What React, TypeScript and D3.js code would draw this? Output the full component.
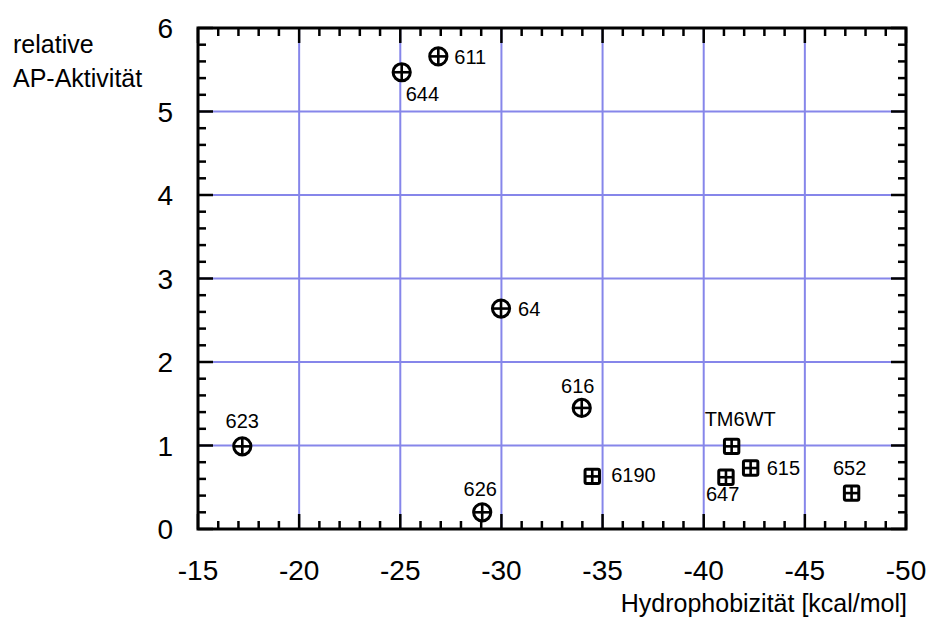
import * as d3 from "d3";

// mutants: hydrophobicity vs relative AP activity
const circleNames = ["623", "644", "611", "64", "616", "626"];
const circleX = [-17.19, -25.07, -26.88, -29.98, -33.97, -29.05];
const circleY = [0.99, 5.47, 5.66, 2.64, 1.45, 0.2];

const squareNames = ["6190", "TM6WT", "647", "615", "652"];
const squareX = [-34.49, -41.38, -41.1, -42.32, -47.31];
const squareY = [0.63, 0.99, 0.62, 0.73, 0.43];

const xTicks = [-15, -20, -25, -30, -35, -40, -45, -50];
const yTicks = [0, 1, 2, 3, 4, 5, 6];

const xTitle = "Hydrophobizität [kcal/mol]";
const yTitle = ["relative", "AP-Aktivität"];

// label placement relative to the marker centre (px)
const labelPos: Record<string, { dx: number; dy: number; anchor: string }> = {
  "623": { dx: 0, dy: -18, anchor: "middle" },
  "644": { dx: 4, dy: 29, anchor: "start" },
  "611": { dx: 16, dy: 8, anchor: "start" },
  "64": { dx: 17, dy: 7, anchor: "start" },
  "616": { dx: -4, dy: -15, anchor: "middle" },
  "626": { dx: -2, dy: -16, anchor: "middle" },
  "6190": { dx: 19, dy: 6, anchor: "start" },
  TM6WT: { dx: -27, dy: -20, anchor: "start" },
  "647": { dx: -20, dy: 24, anchor: "start" },
  "615": { dx: 16, dy: 7, anchor: "start" },
  "652": { dx: -2, dy: -18, anchor: "middle" },
};

const font = "'Liberation Sans', Arial, sans-serif";
const gridColor = "#8686ea";

export default function App() {
  const width = 926;
  const height = 623;
  const left = 198;
  const right = 906;
  const top = 28;
  const bottom = 529;

  const x = d3.scaleLinear().domain([-15, -50]).range([left, right]);
  const y = d3.scaleLinear().domain([0, 6]).range([bottom, top]);

  const xMinor = d3.range(-15, -50.01, -1);
  const yMinor = d3.range(0, 6.001, 0.2);
  const majorLen = 15;
  const minorLen = 8;

  const circles = circleNames.map((n, i) => ({ n, x: circleX[i], y: circleY[i] }));
  const squares = squareNames.map((n, i) => ({ n, x: squareX[i], y: squareY[i] }));

  return (
    <svg
      width={width}
      height={height}
      style={{ position: "absolute", left: 0, top: 0, background: "#fff" }}
      fontFamily={font}
    >
      {/* grid */}
      {xTicks.slice(1, -1).map((t) => (
        <line key={"gx" + t} x1={x(t)} x2={x(t)} y1={top} y2={bottom} stroke={gridColor} strokeWidth={2} />
      ))}
      {yTicks.slice(1, -1).map((t) => (
        <line key={"gy" + t} x1={left} x2={right} y1={y(t)} y2={y(t)} stroke={gridColor} strokeWidth={2} />
      ))}

      {/* ticks, inward on all sides */}
      <g stroke="#000" strokeWidth={2.5}>
        {xMinor.map((t) => {
          const major = Math.abs(t % 5) < 1e-6;
          const len = major ? majorLen : minorLen;
          return (
            <g key={"tx" + t}>
              <line x1={x(t)} x2={x(t)} y1={bottom} y2={bottom - len} />
              <line x1={x(t)} x2={x(t)} y1={top} y2={top + len} />
            </g>
          );
        })}
        {yMinor.map((t) => {
          const major = Math.abs(t - Math.round(t)) < 1e-6;
          const len = major ? majorLen : minorLen;
          return (
            <g key={"ty" + t.toFixed(1)}>
              <line x1={left} x2={left + len} y1={y(t)} y2={y(t)} />
              <line x1={right} x2={right - len} y1={y(t)} y2={y(t)} />
            </g>
          );
        })}
      </g>

      <rect x={left} y={top} width={right - left} height={bottom - top} fill="none" stroke="#000" strokeWidth={3} />

      {/* tick labels */}
      {xTicks.map((t) => (
        <text key={"lx" + t} x={x(t)} y={580} fontSize={28} textAnchor="middle" fill="#000">
          {t}
        </text>
      ))}
      {yTicks.map((t) => (
        <text key={"ly" + t} x={173} y={y(t) + 10} fontSize={28} textAnchor="end" fill="#000">
          {t}
        </text>
      ))}

      {/* axis titles */}
      <text x={907} y={612} fontSize={25} textAnchor="end" fill="#000">
        {xTitle}
      </text>
      {yTitle.map((s, i) => (
        <text key={s} x={13} y={53 + i * 34} fontSize={25} fill="#000">
          {s}
        </text>
      ))}

      {/* circle markers */}
      {circles.map((d) => {
        const cx = x(d.x);
        const cy = y(d.y);
        const r = 8.6;
        const p = labelPos[d.n];
        return (
          <g key={d.n}>
            <circle cx={cx} cy={cy} r={r} fill="#fff" stroke="#000" strokeWidth={3} />
            <line x1={cx - r} x2={cx + r} y1={cy} y2={cy} stroke="#000" strokeWidth={2.6} />
            <line x1={cx} x2={cx} y1={cy - r} y2={cy + r} stroke="#000" strokeWidth={2.6} />
            <text x={cx + p.dx} y={cy + p.dy} fontSize={20} textAnchor={p.anchor} fill="#000">
              {d.n}
            </text>
          </g>
        );
      })}

      {/* square markers */}
      {squares.map((d) => {
        const cx = x(d.x);
        const cy = y(d.y);
        const h = 7.2;
        const p = labelPos[d.n];
        return (
          <g key={d.n}>
            <rect x={cx - h} y={cy - h} width={h * 2} height={h * 2} rx={1.5} fill="#fff" stroke="#000" strokeWidth={3} />
            <line x1={cx - h} x2={cx + h} y1={cy} y2={cy} stroke="#000" strokeWidth={2.6} />
            <line x1={cx} x2={cx} y1={cy - h} y2={cy + h} stroke="#000" strokeWidth={2.6} />
            <text x={cx + p.dx} y={cy + p.dy} fontSize={20} textAnchor={p.anchor} fill="#000">
              {d.n}
            </text>
          </g>
        );
      })}
    </svg>
  );
}
